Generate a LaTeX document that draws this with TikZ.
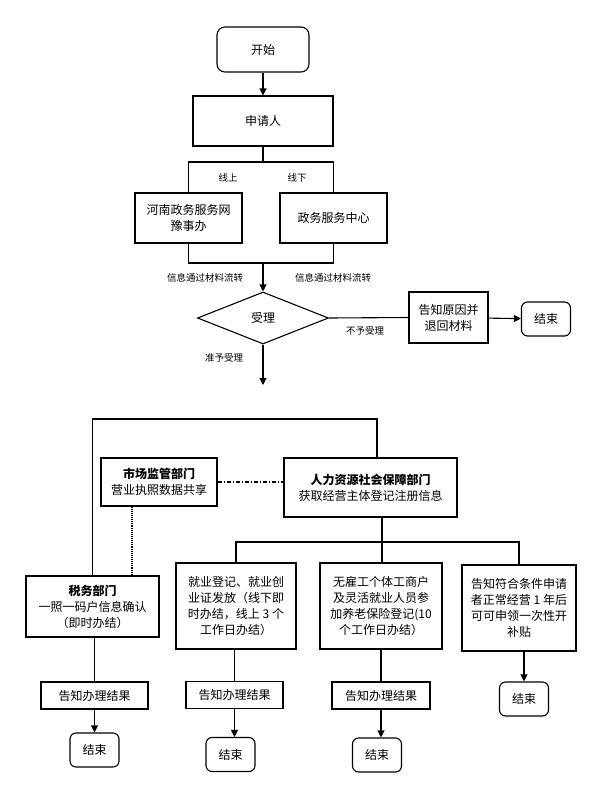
\documentclass[tikz,border=0pt]{standalone}
\usepackage{fontspec}
\setmainfont{Noto Sans CJK SC}
\usetikzlibrary{shapes.geometric,arrows.meta}
\tikzset{
  box/.style={draw, line width=1.1pt, align=center, inner sep=1pt, font=\fontsize{12}{16}\selectfont},
  endbox/.style={box, rounded corners=6pt, minimum width=49pt, minimum height=34pt},
  lab/.style={font=\fontsize{9.5}{11}\selectfont},
  flow/.style={line width=1.1pt},
  arr/.style={flow, -{Triangle[length=7pt,width=7pt]}},
}
\begin{document}
\begin{tikzpicture}[x=1pt, y=-1pt]
  \useasboundingbox (0,0) rectangle (589,785);
  % upper part
  \node[box, rounded corners=8pt, minimum width=92pt, minimum height=45pt] (start) at (263,49.5) {开始};
  \node[box, minimum width=140pt, minimum height=50pt] (applicant) at (263,121) {申请人};
  \node[box, minimum width=107pt, minimum height=50pt] (online) at (188.5,218) {河南政务服务网\\豫事办};
  \node[box, minimum width=107pt, minimum height=50pt] (offline) at (333.5,218) {政务服务中心};
  \coordinate (split) at (263,162);
  \coordinate (merge) at (263,263);
  \node[box, diamond, minimum width=131pt, minimum height=52pt, inner sep=0pt] (accept) at (263,318) {受理};
  \node[box, minimum width=79pt, minimum height=51pt] (reject) at (448.5,317.5) {告知原因并\\退回材料};
  \node[endbox] (end0) at (546,319) {结束};
  \coordinate (pass) at (263,385);
  \draw[arr] (start) -- (applicant);
  \draw[flow] (applicant) -- (split);
  \draw[flow] (online.north) |- (split) -| (offline.north);
  \draw[flow] (online.south) |- (merge) -| (offline.south);
  \draw[arr] (merge) -- (accept.north);
  \draw[flow] (accept.east) -- (reject.west);
  \draw[arr] (reject) -- (end0);
  \draw[arr] (accept.south) -- (pass);
  \node[lab] (l1) at (228,178) {线上};
  \node[lab] (l2) at (297,178) {线下};
  \node[lab] (l3) at (205,278) {信息通过材料流转};
  \node[lab] (l4) at (333,278) {信息通过材料流转};
  \node[lab] (l5) at (365,331) {不予受理};
  \node[lab] (l6) at (224,358) {准予受理};
  % lower part
  \coordinate (hub) at (377,419);
  \coordinate (bus) at (382,542);
  \node[box, minimum width=116pt, minimum height=48pt] (market) at (159,482) {\textbf{市场监管部门}\\营业执照数据共享};
  \node[box, minimum width=173pt, minimum height=59pt] (hr) at (370.5,487.5) {\textbf{人力资源社会保障部门}\\获取经营主体登记注册信息};
  \node[box, minimum width=133pt, minimum height=61pt] (tax) at (92.5,606.5) {\textbf{税务部门}\\一照一码户信息确认\\（即时办结）};
  \node[box, minimum width=120pt, minimum height=86pt] (job) at (236,606) {就业登记、就业创\\业证发放（线下即\\时办结，线上 3 个\\工作日办结）};
  \node[box, minimum width=122pt, minimum height=86pt] (pension) at (381,606) {无雇工个体工商户\\及灵活就业人员参\\加养老保险登记(10\\个工作日办结）};
  \node[box, minimum width=114pt, minimum height=86pt] (subsidy) at (519,608) {告知符合条件申请\\者正常经营 1 年后\\可可申领一次性开\\补贴};
  \node[box, minimum width=107pt, minimum height=27pt] (tell1) at (94.5,695.5) {告知办理结果};
  \node[box, minimum width=97pt, minimum height=27pt] (tell2) at (234.5,695) {告知办理结果};
  \node[box, minimum width=98pt, minimum height=27pt] (tell3) at (381,695.5) {告知办理结果};
  \node[endbox] (end1) at (94.5,750) {结束};
  \node[endbox] (end2) at (230.5,754.5) {结束};
  \node[endbox] (end3) at (377,755) {结束};
  \node[endbox] (end4) at (524,699) {结束};
  \draw[flow] (tax.north) |- (hub) -- (hub |- hr.north);
  \draw[flow, dash pattern=on 4pt off 2pt on 1pt off 2pt] (market.east) -- (market.east -| hr.west);
  \draw[flow, densely dotted] ([xshift=-27pt]market.south) -- ([xshift=-27pt]market.south |- tax.north);
  \draw[flow] (bus |- hr.south) -- (bus);
  \draw[flow] (job.north) |- (bus) -| (subsidy.north);
  \draw[flow] (bus) -- (bus |- pension.north);
  \draw[flow] (tell1.north |- tax.south) -- (tell1.north);
  \draw[flow] (tell2.north |- job.south) -- (tell2.north);
  \draw[flow] (pension.south) -- (tell3.north);
  \draw[arr] (tell1) -- (end1);
  \draw[arr] (tell2.south) -- (tell2.south |- end2.north);
  \draw[arr] (tell3.south) -- (tell3.south |- end3.north);
  \draw[arr] (end4.north |- subsidy.south) -- (end4.north);
\end{tikzpicture}
\end{document}
